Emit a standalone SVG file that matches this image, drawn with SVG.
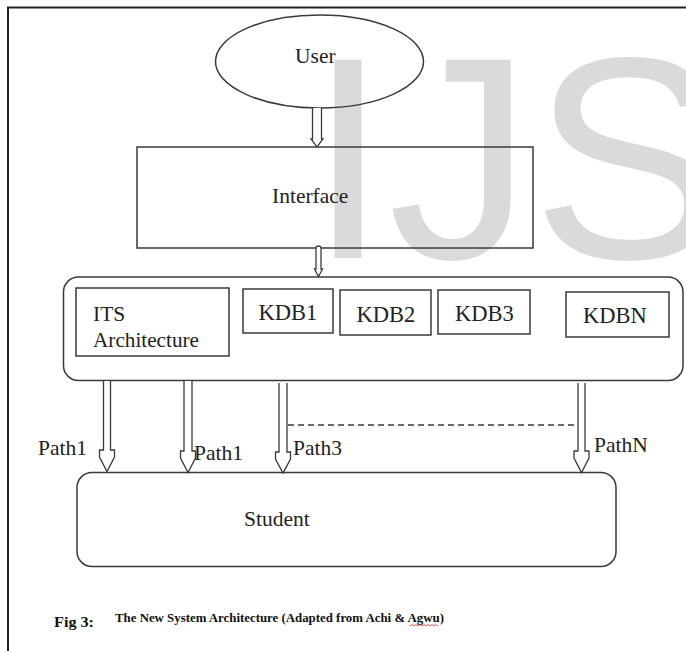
<svg xmlns="http://www.w3.org/2000/svg" width="686" height="651" viewBox="0 0 686 651">
<style>
.ln{fill:none;stroke:#3a3a3a;stroke-width:1.4}
.bx{fill:none;stroke:#3a3a3a;stroke-width:1.5}
.ar{fill:#fff;stroke:#3a3a3a;stroke-width:1.3;stroke-linejoin:miter}
.t{font-family:"Liberation Serif","Times New Roman",serif;font-size:21.5px;fill:#222}
.k{font-family:"Liberation Serif","Times New Roman",serif;font-size:22.5px;fill:#222;text-anchor:middle}
.cap{font-family:"Liberation Serif","Times New Roman",serif;font-weight:bold;fill:#111}
.wm{font-family:"Liberation Sans",Arial,sans-serif;font-size:288px;fill:#dadada}
</style>
<rect x="0" y="0" width="686" height="651" fill="#fff"/>
<text class="wm" x="308" y="258">IJS</text>
<g id="frame">
<path d="M8,651 V7.5 H686" fill="none" stroke="#222" stroke-width="2"/>
</g>
<g id="user">
<ellipse class="bx" cx="319.5" cy="61.5" rx="104" ry="46.5"/>
<text class="t" x="295" y="63">User</text>
</g>
<g id="interface">
<rect class="bx" x="137" y="147" width="396" height="101"/>
<text class="t" x="272" y="203">Interface</text>
</g>
<g id="system">
<rect class="bx" x="63.5" y="277" width="619.5" height="103.5" rx="15" ry="15"/>
</g>
<g id="its">
<rect class="bx" x="76" y="288" width="153" height="68"/>
<text class="t" x="93" y="321">ITS</text>
<text class="t" x="93" y="347" textLength="106" lengthAdjust="spacingAndGlyphs">Architecture</text>
</g>
<g id="kdb1">
<rect class="bx" x="243" y="289" width="90" height="44"/>
<text class="k" x="288" y="320">KDB1</text>
</g>
<g id="kdb2">
<rect class="bx" x="340" y="290" width="91" height="45"/>
<text class="k" x="386" y="322">KDB2</text>
</g>
<g id="kdb3">
<rect class="bx" x="438" y="290" width="92" height="44"/>
<text class="k" x="484.5" y="321">KDB3</text>
</g>
<g id="kdbn">
<rect class="bx" x="566" y="292" width="103" height="45"/>
<text class="k" x="615" y="323">KDBN</text>
</g>
<g id="student">
<rect class="bx" x="77" y="472.5" width="539" height="94" rx="15" ry="15"/>
<text class="t" x="244" y="526">Student</text>
</g>
<g id="connectors">
<path class="ar" d="M312.5,108 V139 H311 L317,147 L323,139 H321.5 V108"/>
<path class="ar" d="M316,248 Q316,246 318.5,246 Q321,246 321,248 V269 H322.5 L318.5,276.5 L314.5,269 H316 Z"/>
<path class="ar" d="M103.5,381 V450 H99.5 V457 L107,471.5 L114.5,457 V450 H110.5 V381"/>
<path class="ar" d="M184,381 V451 H180.5 V458 L188,472.5 L195.5,458 V451 H192 V381"/>
<path class="ar" d="M279,383 V452 H275.5 V459 L283,473 L290.5,459 V452 H287 V383"/>
<path class="ar" d="M578,383 V451 H574 V458 L581.5,472.5 L589,458 V451 H585 V383"/>
<line class="ln" x1="288" y1="425" x2="577" y2="425" stroke-dasharray="6 4"/>
<text class="t" x="38" y="455">Path1</text>
<text class="t" x="194" y="460">Path1</text>
<text class="t" x="293" y="455">Path3</text>
<text class="t" x="594" y="452">PathN</text>
</g>
<g id="caption">
<text class="cap" x="54" y="627" font-size="14" textLength="40" lengthAdjust="spacingAndGlyphs">Fig 3:</text>
<text class="cap" x="115" y="622" font-size="12.5" textLength="329" lengthAdjust="spacingAndGlyphs">The New System Architecture (Adapted from Achi &amp; Agwu)</text>
<path d="M410,626 l2,-1.5 l2,1.5 l2,-1.5 l2,1.5 l2,-1.5 l2,1.5 l2,-1.5 l2,1.5 l2,-1.5 l2,1.5 l2,-1.5 l2,1.5 l2,-1.5 l2,1.5" fill="none" stroke="#e03030" stroke-width="0.8"/>
</g>
</svg>
